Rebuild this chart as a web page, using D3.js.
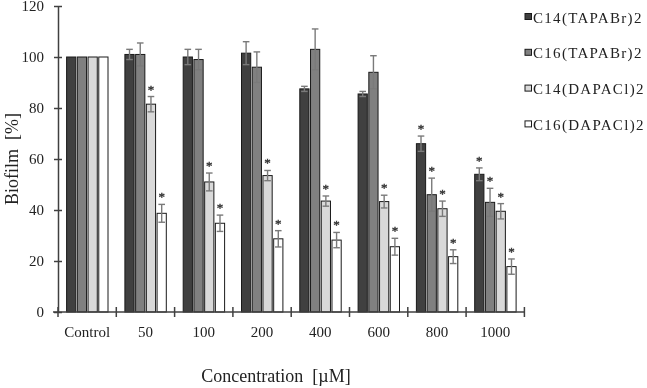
<!DOCTYPE html>
<html><head><meta charset="utf-8">
<script src="https://cdn.jsdelivr.net/npm/d3@7"></script>
<style>
html,body{margin:0;padding:0;background:#fff;}
svg{display:block;font-family:"Liberation Serif","Times New Roman",serif;will-change:transform;}
</style></head>
<body>
<svg id="chart" width="647" height="388"></svg>
<script>
const categories = ["Control","50","100","200","400","600","800","1000"];
const seriesNames = ["C14(TAPABr)2","C16(TAPABr)2","C14(DAPACl)2","C16(DAPACl)2"];
const c14tapa = [100, 101, 100, 101.5, 87.5, 85.5, 66, 54];
const c16tapa = [100, 101, 99, 96, 103, 94, 46, 43];
const c14dapa = [100, 81.5, 51, 53.5, 43.5, 43.3, 40.5, 39.5];
const c16dapa = [100, 38.7, 34.8, 28.7, 28.2, 25.6, 21.7, 17.8];
const c14tapaErr = [0, 2, 3, 4.5, 1, 1, 3, 2.5];
const c16tapaErr = [0, 4.5, 4, 6, 8, 6.5, 6.5, 5.5];
const c14dapaErr = [0, 3, 3.5, 2, 2, 2.5, 3, 3];
const c16dapaErr = [0, 3.5, 3.2, 3.2, 3, 3.3, 2.7, 3];
const c14tapaSig = [0,0,0,0,0,0,1,1];
const c16tapaSig = [0,0,0,0,0,0,1,1];
const c14dapaSig = [0,1,1,1,1,1,1,1];
const c16dapaSig = [0,1,1,1,1,1,1,1];
const yTicks = [0,20,40,60,80,100,120];

const values = [c14tapa, c16tapa, c14dapa, c16dapa];
const errors = [c14tapaErr, c16tapaErr, c14dapaErr, c16dapaErr];
const sigs = [c14tapaSig, c16tapaSig, c14dapaSig, c16dapaSig];
const colors = ["#404040", "#808080", "#d9d9d9", "#ffffff"];

const svg = d3.select("#chart");
const x0 = d3.scaleBand().domain(categories).range([58, 524.4]).padding(0);
const x1 = d3.scaleBand().domain(seriesNames).range([8.6, 50]).paddingInner(0.14);
const y = d3.scaleLinear().domain([0, 120]).range([312, 6]);

const rows = [];
categories.forEach((c, i) => {
  seriesNames.forEach((s, j) => {
    rows.push({cat: c, ser: s, j, v: values[j][i], e: errors[j][i], sig: sigs[j][i]});
  });
});

// bars
svg.append("g").selectAll("rect").data(rows).join("rect")
  .attr("x", d => x0(d.cat) + x1(d.ser))
  .attr("y", d => y(d.v))
  .attr("width", x1.bandwidth())
  .attr("height", d => y(0) - y(d.v))
  .attr("fill", d => colors[d.j])
  .attr("stroke", "#1a1a1a")
  .attr("stroke-width", 1);

// error bars
const eb = svg.append("g").attr("stroke", "#7a7a7a").attr("stroke-width", 1.4);
rows.filter(d => d.e > 0).forEach(d => {
  const cx = x0(d.cat) + x1(d.ser) + x1.bandwidth() / 2;
  const yt = y(d.v + d.e), yb = y(d.v - d.e);
  eb.append("line").attr("x1", cx).attr("x2", cx).attr("y1", yt).attr("y2", yb);
  eb.append("line").attr("x1", cx - 3.3).attr("x2", cx + 3.3).attr("y1", yt).attr("y2", yt);
  eb.append("line").attr("x1", cx - 3.3).attr("x2", cx + 3.3).attr("y1", yb).attr("y2", yb);
});

// significance stars
svg.append("g").attr("opacity", 0.99).selectAll("text").data(rows.filter(d => d.sig)).join("text")
  .attr("x", d => x0(d.cat) + x1(d.ser) + x1.bandwidth() / 2)
  .attr("y", d => y(d.v + d.e) - 3)
  .attr("text-anchor", "middle")
  .attr("font-size", 13)
  .attr("fill", "#333")
  .attr("stroke", "#333")
  .attr("stroke-width", 0.4)
  .text("*");

// y axis
const yAxis = svg.append("g").attr("transform", "translate(58,0)")
  .call(d3.axisLeft(y).tickValues(yTicks).tickSize(4).tickPadding(10).tickSizeOuter(0));
yAxis.select(".domain").attr("stroke", "#404040").attr("stroke-width", 1.5);
yAxis.selectAll(".tick line").attr("x1", -4).attr("x2", 4).attr("stroke", "#404040").attr("stroke-width", 1.5);
yAxis.selectAll(".tick text").attr("font-size", 15).attr("font-family", "Liberation Serif").attr("fill", "#222");

// x axis
const xAxis = svg.append("g").attr("transform", "translate(0,312)")
  .call(d3.axisBottom(x0).tickSize(0).tickSizeOuter(0));
xAxis.select(".domain").remove();
xAxis.append("line").attr("x1", 53).attr("x2", x0.range()[1]).attr("y1", 0).attr("y2", 0)
  .attr("stroke", "#404040").attr("stroke-width", 1.5);
const bounds = categories.map(c => x0(c)).concat([x0.range()[1]]);
xAxis.selectAll(".bound").data(bounds).join("line").attr("class", "bound")
  .attr("x1", d => d).attr("x2", d => d).attr("y1", -5).attr("y2", 5)
  .attr("stroke", "#404040").attr("stroke-width", 1.5);
xAxis.selectAll(".tick text").attr("y", 25).attr("dy", 0)
  .attr("font-size", 15).attr("font-family", "Liberation Serif").attr("fill", "#222");

// axis titles
svg.append("text").attr("x", 276).attr("y", 382).attr("text-anchor", "middle")
  .attr("font-size", 18).attr("fill", "#222")
  .text("Concentration\u00a0\u00a0[\u00b5M]");
svg.append("text").attr("transform", "translate(18,159) rotate(-90)").attr("text-anchor", "middle")
  .attr("font-size", 18).attr("fill", "#222")
  .text("Biofilm\u00a0\u00a0[%]");

// legend
const lg = svg.append("g");
seriesNames.forEach((s, j) => {
  const cy = 16.5 + j * 35.8;
  lg.append("rect").attr("x", 525).attr("y", cy - 3).attr("width", 6.5).attr("height", 6)
    .attr("fill", colors[j]).attr("stroke", "#1a1a1a").attr("stroke-width", 1);
  lg.append("text").attr("x", 533).attr("y", cy + 6).attr("font-size", 15)
    .attr("letter-spacing", 1.3).attr("fill", "#222").text(s);
});
</script>
</body></html>
